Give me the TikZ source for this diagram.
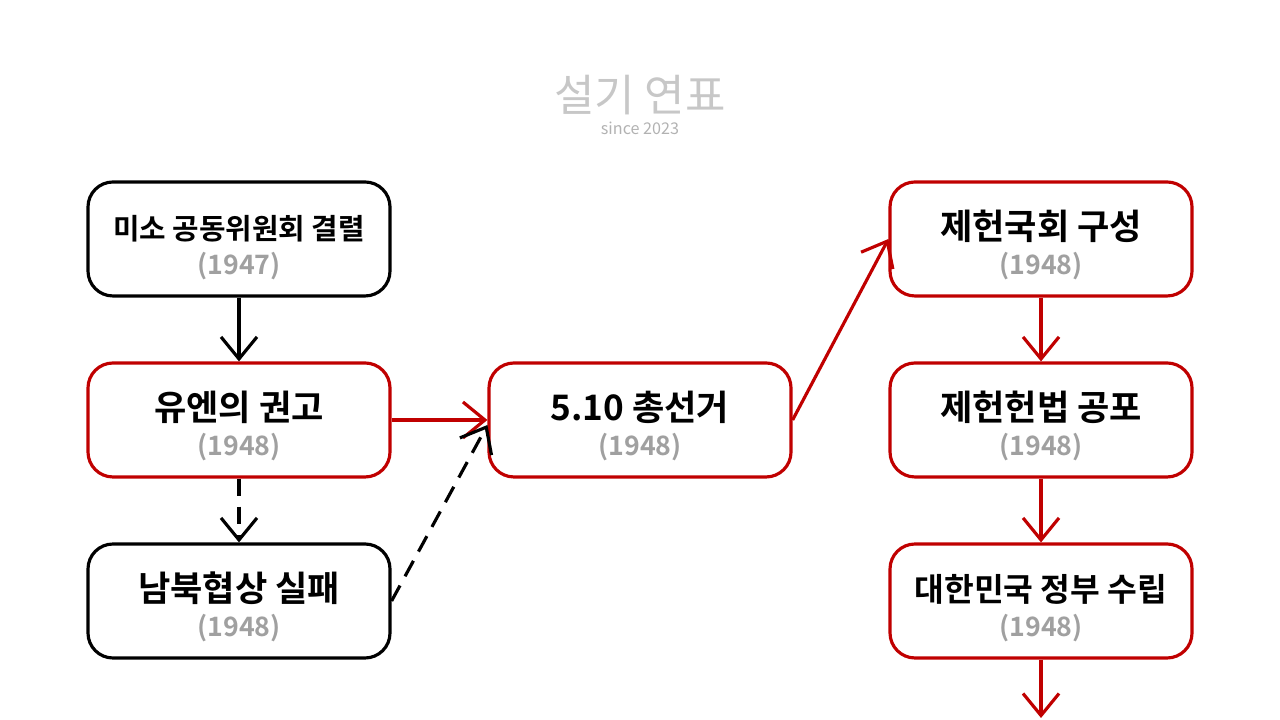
\documentclass[tikz,border=0pt]{standalone}
\usepackage{fontspec}
\newfontfamily\kr{Noto Sans CJK KR}
\newfontfamily\krb{Noto Sans CJK KR Bold}
\usetikzlibrary{arrows.meta}
\definecolor{evred}{RGB}{192,0,0}
\definecolor{yeargray}{RGB}{160,160,160}
\tikzset{
  event/.style={draw, line width=0.9pt, rounded corners=2.5mm, minimum width=3.02cm, minimum height=1.14cm, fill=white, inner sep=0pt, text height=0.62cm, text depth=0.42cm},
  redevent/.style={event, draw=evred},
  link/.style={line width=0.9pt, -{Straight Barb[length=2.2mm,width=3.6mm]}},
}
\newcommand{\evtext}[3]{\raisebox{-0.08cm}{\begin{tabular}{c}{\krb\fontsize{#1}{#1}\selectfont #2}\\[-2pt]{\krb\fontsize{7.6}{8}\selectfont\color{yeargray}(#3)}\end{tabular}}}
\begin{document}
\begin{tikzpicture}
\useasboundingbox (0,0) rectangle (12.8,7.2);
% header
\node (head) at (6.4,6.25) {\kr\fontsize{12.5}{13}\selectfont\color{black!22}설기 연표};
\node (since) at (6.4,5.92) {\kr\fontsize{4.6}{5}\selectfont\color{black!30}since 2023};
% left column
\node[event] (geyeol) at (2.39,4.81) {\evtext{8.2}{미소 공동위원회 결렬}{1947}};
\node[redevent] (gwongo) at (2.39,3.00) {\evtext{10}{유엔의 권고}{1948}};
\node[event] (hyeopsang) at (2.39,1.19) {\evtext{10}{남북협상 실패}{1948}};
% center
\node[redevent] (seongeo) at (6.40,3.00) {\evtext{10}{5.10 총선거}{1948}};
% right column
\node[redevent] (gukhoe) at (10.41,4.81) {\evtext{10}{제헌국회 구성}{1948}};
\node[redevent] (heonbeop) at (10.41,3.00) {\evtext{10}{제헌헌법 공포}{1948}};
\node[redevent] (surip) at (10.41,1.19) {\evtext{9.2}{대한민국 정부 수립}{1948}};
\coordinate (next) at (10.41,0.02);
% connectors
\draw[link] (geyeol) -- (gwongo);
\draw[link, dashed, dash pattern=on 5pt off 3pt] (gwongo) -- (hyeopsang);
\draw[link, evred] (gwongo) -- (seongeo);
\draw[link, dashed, dash pattern=on 5pt off 3pt] (hyeopsang.east) -- ([yshift=-0.05cm]seongeo.west);
\draw[link, evred] (seongeo.east) -- (gukhoe.west);
\draw[link, evred] (gukhoe) -- (heonbeop);
\draw[link, evred] (heonbeop) -- (surip);
\draw[link, evred] (surip) -- (next);
\end{tikzpicture}
\end{document}
